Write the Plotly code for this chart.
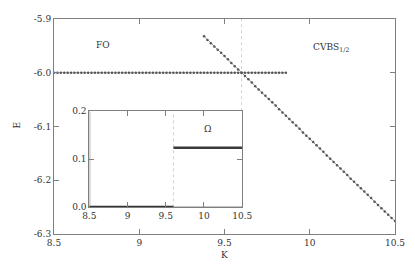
import plotly.graph_objects as go

# ---- data ----
fo_K = [8.50, 8.52, 8.54, 8.56, 8.58, 8.60, 8.62, 8.64, 8.66, 8.68,
        8.70, 8.72, 8.74, 8.76, 8.78, 8.80, 8.82, 8.84, 8.86, 8.88,
        8.90, 8.92, 8.94, 8.96, 8.98, 9.00, 9.02, 9.04, 9.06, 9.08,
        9.10, 9.12, 9.14, 9.16, 9.18, 9.20, 9.22, 9.24, 9.26, 9.28,
        9.30, 9.32, 9.34, 9.36, 9.38, 9.40, 9.42, 9.44, 9.46, 9.48,
        9.50, 9.52, 9.54, 9.56, 9.58, 9.60, 9.62, 9.64, 9.66, 9.68,
        9.70, 9.72, 9.74, 9.76, 9.78, 9.80, 9.82, 9.84, 9.86]
fo_E = [-6.0] * len(fo_K)

cv_K = [9.38, 9.40, 9.42, 9.44, 9.46, 9.48, 9.50, 9.52, 9.54, 9.56,
        9.58, 9.60, 9.62, 9.64, 9.66, 9.68, 9.70, 9.72, 9.74, 9.76,
        9.78, 9.80, 9.82, 9.84, 9.86, 9.88, 9.90, 9.92, 9.94, 9.96,
        9.98, 10.00, 10.02, 10.04, 10.06, 10.08, 10.10, 10.12, 10.14, 10.16,
        10.18, 10.20, 10.22, 10.24, 10.26, 10.28, 10.30, 10.32, 10.34, 10.36,
        10.38, 10.40, 10.42, 10.44, 10.46, 10.48, 10.50]
cv_E = [-5.932, -5.939, -5.945, -5.951, -5.957, -5.963, -5.969, -5.975, -5.982, -5.988,
        -5.994, -6.000, -6.006, -6.012, -6.018, -6.025, -6.031, -6.037, -6.043, -6.049,
        -6.055, -6.061, -6.068, -6.074, -6.080, -6.086, -6.092, -6.098, -6.104, -6.111,
        -6.117, -6.123, -6.129, -6.135, -6.141, -6.147, -6.154, -6.160, -6.166, -6.172,
        -6.178, -6.184, -6.190, -6.197, -6.203, -6.209, -6.215, -6.221, -6.227, -6.233,
        -6.240, -6.246, -6.252, -6.258, -6.264, -6.270, -6.276]

omega_low_K = [8.5, 9.6]
omega_low = [0.0, 0.0]
omega_high_K = [9.6, 10.5]
omega_high = [0.124, 0.124]

K_c = 9.6
main_xticks = [8.5, 9, 9.5, 10, 10.5]
main_xticklabels = ["8.5", "9", "9.5", "10", "10.5"]
main_yticks = [-5.9, -6.0, -6.1, -6.2, -6.3]
main_yticklabels = ["-5.9", "-6.0", "-6.1", "-6.2", "-6.3"]
ins_xticks = [8.5, 9, 9.5, 10, 10.5]
ins_xticklabels = ["8.5", "9", "9.5", "10", "10.5"]
ins_yticks = [0.0, 0.1, 0.2]
ins_yticklabels = ["0.0", "0.1", "0.2"]

FONT = "DejaVu Serif"
AX = "#7f7f7f"
DOT = "#555555"
TXT = "#333333"

fig = go.Figure()

fig.add_trace(go.Scatter(x=fo_K, y=fo_E, mode="lines+markers",
                         line=dict(color="#b0b0b0", width=1),
                         marker=dict(color=DOT, size=2.5),
                         xaxis="x", yaxis="y", showlegend=False))
fig.add_trace(go.Scatter(x=cv_K, y=cv_E, mode="lines+markers",
                         line=dict(color="#9a9a9a", width=1),
                         marker=dict(color=DOT, size=2.5),
                         xaxis="x", yaxis="y", showlegend=False))

# inset
fig.add_trace(go.Scatter(x=[8.5, 8.5], y=[0.0, 0.2], mode="lines",
                         line=dict(color="#c4c4c4", width=2.5),
                         xaxis="x2", yaxis="y2", showlegend=False, cliponaxis=False))
fig.add_trace(go.Scatter(x=[8.5, 10.5], y=[0.0, 0.0], mode="lines",
                         line=dict(color="#c4c4c4", width=2.5),
                         xaxis="x2", yaxis="y2", showlegend=False, cliponaxis=False))
fig.add_trace(go.Scatter(x=omega_low_K, y=omega_low, mode="lines",
                         line=dict(color="#333333", width=3),
                         xaxis="x2", yaxis="y2", showlegend=False, cliponaxis=False))
fig.add_trace(go.Scatter(x=omega_high_K, y=omega_high, mode="lines",
                         line=dict(color="#3a3a3a", width=2.5),
                         xaxis="x2", yaxis="y2", showlegend=False, cliponaxis=False))

axis_common = dict(showline=True, linecolor=AX, linewidth=1, mirror="ticks",
                   ticks="inside", ticklen=5, tickcolor=AX, showgrid=False,
                   zeroline=False, tickfont=dict(family=FONT, size=9, color=TXT))

fig.update_layout(
    width=407, height=263,
    margin=dict(l=46, r=20, t=6, b=37),
    paper_bgcolor="white", plot_bgcolor="white",
    font=dict(family=FONT, size=9, color=TXT),
    xaxis=dict(domain=[0, 1], range=[8.5, 10.5], tickvals=main_xticks,
               ticktext=main_xticklabels, **axis_common),
    yaxis=dict(domain=[0, 1], range=[-6.3, -5.9], tickvals=main_yticks,
               ticktext=main_yticklabels, **axis_common),
    xaxis2=dict(domain=[0.1035, 0.552], range=[8.5, 10.5], anchor="y2",
                tickvals=ins_xticks, ticktext=ins_xticklabels, **axis_common),
    yaxis2=dict(domain=[0.124, 0.571], range=[0.0, 0.2], anchor="x2",
                tickvals=ins_yticks, ticktext=ins_yticklabels, **axis_common),
    shapes=[
        dict(type="line", xref="x", yref="paper", x0=K_c, x1=K_c, y0=0.571, y1=1,
             line=dict(color="#d0d0d0", width=1, dash="dot"), layer="below"),
        dict(type="line", xref="x2", yref="y2", x0=K_c, x1=K_c, y0=0, y1=0.2,
             line=dict(color="#d0d0d0", width=1, dash="dot"), layer="below"),
    ],
    annotations=[
        dict(text="FO", x=8.79, y=-5.949, xref="x", yref="y", showarrow=False,
             font=dict(family=FONT, size=9)),
        dict(text="CVBS<sub>1/2</sub>", x=10.125, y=-5.953, xref="x", yref="y",
             showarrow=False, font=dict(family=FONT, size=9)),
        dict(text="Ω", x=10.04, y=0.162, xref="x2", yref="y2", showarrow=False,
             font=dict(family=FONT, size=9)),
        dict(text="E", x=-0.129, y=0.505, xref="paper", yref="paper", showarrow=False,
             textangle=-90, font=dict(family=FONT, size=9)),
        dict(text="K", x=0.501, y=-0.132, xref="paper", yref="paper", showarrow=False,
             font=dict(family=FONT, size=9)),
    ],
)

fig.write_html("out.html")
